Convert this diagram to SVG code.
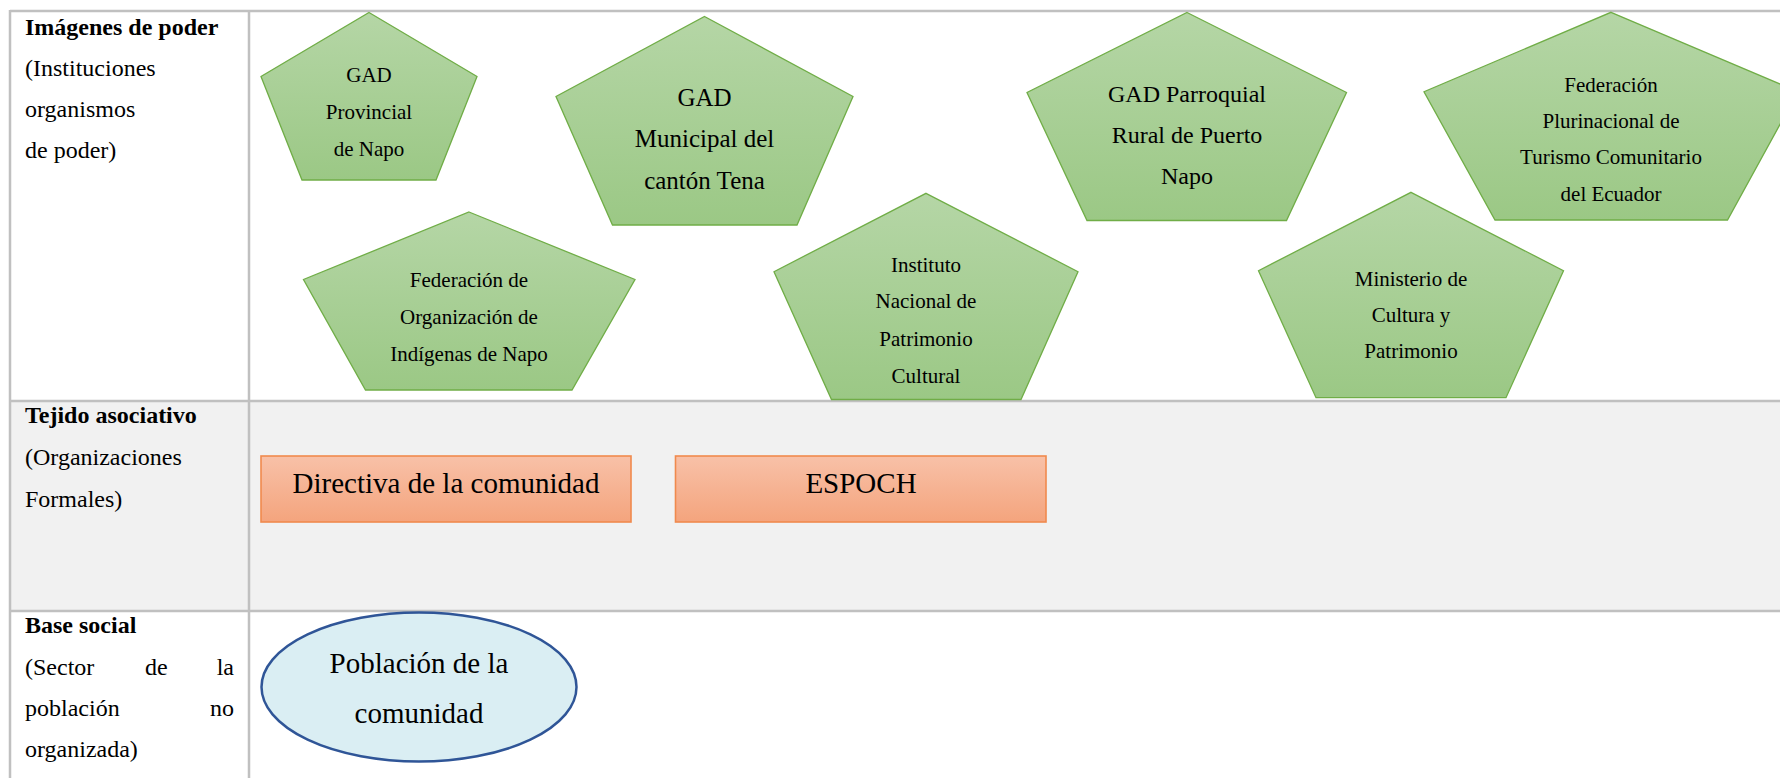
<svg xmlns="http://www.w3.org/2000/svg" width="1780" height="778" viewBox="0 0 1780 778">
<defs>
<linearGradient id="gGreen" x1="0" y1="0" x2="0" y2="1">
<stop offset="0" stop-color="#b5d6a6"/>
<stop offset="1" stop-color="#9bc885"/>
</linearGradient>
<linearGradient id="gOrange" x1="0" y1="0" x2="0" y2="1">
<stop offset="0" stop-color="#f8c1a8"/>
<stop offset="1" stop-color="#f4a47d"/>
</linearGradient>
<style>
.t{font-family:"Liberation Serif","Times New Roman",serif;fill:#000}
.lb{font-size:24px;font-weight:bold}
.lr{font-size:24px}
.pn{fill:url(#gGreen);stroke:#70ad47;stroke-width:1.3}
.ps{font-size:21px;text-anchor:middle}
.pm{font-size:25px;text-anchor:middle}
.pl{font-size:24px;text-anchor:middle}
.rc{fill:url(#gOrange);stroke:#f08a4e;stroke-width:1.6}
.big{font-size:29px;text-anchor:middle}
.grid{stroke:#c0c0c0;stroke-width:2.5;fill:none}
</style>
</defs>
<rect width="1780" height="778" fill="#ffffff"/>
<rect x="10" y="401" width="1770" height="210" fill="#f1f1f1"/>
<g id="table" class="grid">
<line x1="10" y1="11" x2="1780" y2="11"/>
<line x1="10" y1="10" x2="10" y2="778"/>
<line x1="249" y1="11" x2="249" y2="778"/>
<line x1="10" y1="401" x2="1780" y2="401"/>
<line x1="10" y1="611" x2="1780" y2="611"/>
</g>
<g id="labels" class="t">
<text class="lb" x="25" y="35">Imágenes de poder</text>
<text class="lr" x="25" y="76">(Instituciones</text>
<text class="lr" x="25" y="117">organismos</text>
<text class="lr" x="25" y="158">de poder)</text>
<text class="lb" x="25" y="423">Tejido asociativo</text>
<text class="lr" x="25" y="465">(Organizaciones</text>
<text class="lr" x="25" y="507">Formales)</text>
<text class="lb" x="25" y="633">Base social</text>
<text class="lr" x="25" y="675">(Sector</text>
<text class="lr" x="145" y="675">de</text>
<text class="lr" x="234" y="675" text-anchor="end">la</text>
<text class="lr" x="25" y="716">población</text>
<text class="lr" x="234" y="716" text-anchor="end">no</text>
<text class="lr" x="25" y="757">organizada)</text>
</g>
<g id="p1">
<polygon class="pn" points="369,12.5 477,76.5 436,180 302,180 261,76.5"/>
<text class="t ps" x="369" y="82">GAD</text>
<text class="t ps" x="369" y="119">Provincial</text>
<text class="t ps" x="369" y="156">de Napo</text>
</g>
<g id="p2">
<polygon class="pn" points="704.5,16.5 853,96.5 797,225 612.5,225 556,96.5"/>
<text class="t pm" x="704.5" y="106">GAD</text>
<text class="t pm" x="704.5" y="147">Municipal del</text>
<text class="t pm" x="704.5" y="189">cantón Tena</text>
</g>
<g id="p3">
<polygon class="pn" points="1187,12.5 1346.5,92.5 1286.5,220.5 1087,220.5 1027,92.5"/>
<text class="t pl" x="1187" y="102">GAD Parroquial</text>
<text class="t pl" x="1187" y="143">Rural de Puerto</text>
<text class="t pl" x="1187" y="184">Napo</text>
</g>
<g id="p4">
<polygon class="pn" points="1611,12.3 1798,91.7 1727.5,220 1495,220 1424,91.7"/>
<text class="t ps" x="1611" y="92">Federación</text>
<text class="t ps" x="1611" y="128">Plurinacional de</text>
<text class="t ps" x="1611" y="164">Turismo Comunitario</text>
<text class="t ps" x="1611" y="201">del Ecuador</text>
</g>
<g id="p5">
<polygon class="pn" points="469,212 635,279.5 572,390 365.5,390 303.5,279.5"/>
<text class="t ps" x="469" y="287">Federación de</text>
<text class="t ps" x="469" y="324">Organización de</text>
<text class="t ps" x="469" y="361">Indígenas de Napo</text>
</g>
<g id="p6">
<polygon class="pn" points="926,193.3 1078,271.7 1021,399.5 831.5,399.5 774,271.7"/>
<text class="t ps" x="926" y="272">Instituto</text>
<text class="t ps" x="926" y="308">Nacional de</text>
<text class="t ps" x="926" y="346">Patrimonio</text>
<text class="t ps" x="926" y="383">Cultural</text>
</g>
<g id="p7">
<polygon class="pn" points="1411,192.3 1563.5,270.7 1506,397.7 1316,397.7 1258.5,270.7"/>
<text class="t ps" x="1411" y="286">Ministerio de</text>
<text class="t ps" x="1411" y="322">Cultura y</text>
<text class="t ps" x="1411" y="358">Patrimonio</text>
</g>
<g id="r1">
<rect class="rc" x="261" y="456" width="370" height="66"/>
<text class="t big" x="446" y="493">Directiva de la comunidad</text>
</g>
<g id="r2">
<rect class="rc" x="675.5" y="456" width="370.5" height="66"/>
<text class="t big" x="861" y="493">ESPOCH</text>
</g>
<g id="e1">
<ellipse cx="419" cy="687" rx="157.5" ry="74.5" fill="#daeef3" stroke="#2f5597" stroke-width="2.5"/>
<text class="t big" x="419" y="673">Población de la</text>
<text class="t big" x="419" y="723">comunidad</text>
</g>
<g id="connectors"/>
</svg>
